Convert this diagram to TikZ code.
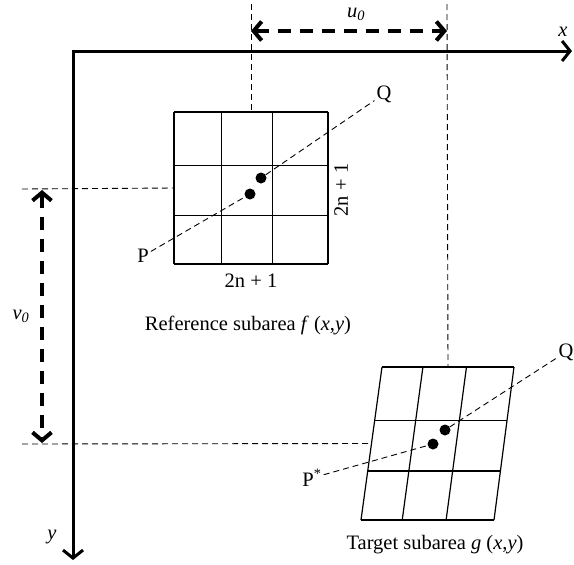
\documentclass[tikz,border=0pt]{standalone}
\usepackage{fontspec}
\setmainfont{Liberation Serif}
\usetikzlibrary{arrows.meta,calc}

\begin{document}
\begin{tikzpicture}[x=1pt,y=-1pt, line join=round, font=\fontsize{20.5}{24}\selectfont,
	axis/.style={line width=3pt, line join=miter, {Straight Barb[length=8pt,width=20pt]}-{Straight Barb[length=8pt,width=20pt]}},
	shiftarrow/.style={line width=4pt, dash pattern=on 13pt off 9pt, {Straight Barb[length=8pt,width=19pt]}-{Straight Barb[length=8pt,width=19pt]}},
	guide/.style={line width=0.9pt, dash pattern=on 6pt off 4pt},
	cell/.style={line width=1.2pt},
	dot/.style={circle, fill=black, inner sep=0pt, minimum size=11pt},
	lbl/.style={inner sep=2pt}]
	\useasboundingbox (0,0) rectangle (574,565);
	
	% [Khung: truc toa do - Layer 1]
	\coordinate (O) at (73,51);
	\coordinate (Xend) at (572,51);
	\coordinate (Yend) at (73,560);
	\draw[axis] (Xend) -- (O) -- (Yend);
	\node (xlab) at (563,32) {\textit{x}};
	\node (ylab) at (52,537) {\textit{y}};
	
	% [Luoi tham chieu va luoi dich - Layer 2]
	\coordinate (R1) at (174,112); \coordinate (R2) at (328,112);
	\coordinate (R3) at (328,264); \coordinate (R4) at (174,264);
	\coordinate (T1) at (382,367); \coordinate (T2) at (514,367);
	\coordinate (T3) at (494,520); \coordinate (T4) at (361,520);
	\foreach \f in {0,0.31,0.64,1}{
		\draw[cell] ($(R1)!\f!(R2)$) -- ($(R4)!\f!(R3)$);
		\draw[cell] ($(T1)!\f!(T2)$) -- ($(T4)!\f!(T3)$);
	}
	\foreach \f in {0,0.35,0.68,1}{
		\draw[cell] ($(R1)!\f!(R4)$) -- ($(R2)!\f!(R3)$);
		\draw[cell] ($(T1)!\f!(T4)$) -- ($(T2)!\f!(T3)$);
	}
	
	% [Duong dong va mui ten dich chuyen - Layer 3]
	\coordinate (Ua) at (251,4);
	\coordinate (Ub) at (447,4);
	\coordinate (Va) at (22,189);
	\coordinate (Vb) at (22,444);
	\draw[guide] (Ua) -- ($(R1)!.5!(R2)$);
	\draw[guide] (Ub) -- ($(T1)!.5!(T2)$);
	\draw[guide] (Va) -- ($(R1)!.5!(R4)$);
	\draw[guide] (Vb) -- ($(T1)!.5!(T4)$);
	\coordinate (u0a) at (251,31); \coordinate (u0b) at (447,31);
	\coordinate (v0a) at (42,190); \coordinate (v0b) at (42,443);
	\draw[shiftarrow] (u0a) -- (u0b);
	\draw[shiftarrow] (v0a) -- (v0b);
	\node (u0) at (356,14) {\textit{u}\textsubscript{\textit{0}}};
	\node (v0) at (21,316) {\textit{v}\textsubscript{\textit{0}}};
	
	% [Diem va duong PQ - Layer 4]
	\node[dot] (r1) at (250,194) {};
	\node[dot] (r2) at (261,178) {};
	\node[lbl] (P) at (143,256) {P};
	\node[lbl] (Q) at (384,94) {Q};
	\draw[guide] (P) -- (r1);
	\draw[guide] (r2) -- (Q);
	\node[dot] (t1) at (433,444) {};
	\node[dot] (t2) at (445,430) {};
	\node[lbl] (Ps) at (312,478) {P\textsuperscript{*}};
	\node[lbl] (Qt) at (566,352) {Q};
	\draw[guide] (Ps) -- (t1);
	\draw[guide] (t2) -- (Qt);
	
	% [Nhan - Layer 5]
	\node (nb) at (251,281) {2n + 1};
	\node[rotate=90] (nr) at (341,190) {2n + 1};
	\node (refname) at (248,325) {Reference subarea \textit{f} (\textit{x},\textit{y})};
	\node (tarname) at (435,545) {Target subarea \textit{g} (\textit{x},\textit{y})};
\end{tikzpicture}
\end{document}
